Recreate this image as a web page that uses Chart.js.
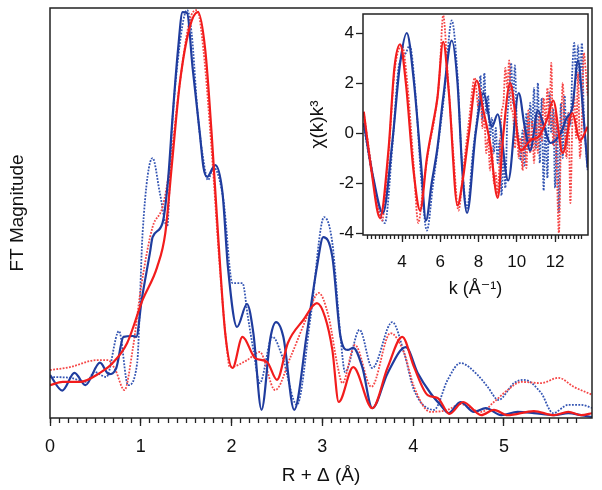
<!DOCTYPE html>
<html lang="en">
<head>
<meta charset="UTF-8">
<title>FT Magnitude</title>
<script src="https://cdn.jsdelivr.net/npm/chart.js"></script>
<style>
    body { margin: 0; background: #fff; }
    .wrap { position: relative; width: 602px; height: 490px; }
    #mainChart { position: absolute; left: 0; top: 0; }
    #insetChart { position: absolute; left: 290px; top: 0; }
</style>
</head>
<body>
<div class="wrap">
    <canvas id="mainChart" width="602" height="490"></canvas>
    <canvas id="insetChart" width="300" height="300"></canvas>
</div>
<script>
// main panel: FT magnitude vs R + delta
const rBlueSolid = [0.00,0.135,0.27,0.39,0.55,0.65,0.73,0.81,0.91,0.95,1.01,1.10,1.13,1.24,1.30,1.35,1.41,1.46,1.51,1.57,1.65,1.69,1.73,1.82,1.90,1.96,2.06,2.17,2.24,2.33,2.43,2.49,2.57,2.69,2.83,2.94,3.01,3.11,3.20,3.28,3.34,3.44,3.55,3.72,3.92,4.05,4.19,4.30,4.39,4.52,4.67,4.80,4.97,5.15,5.33,5.55,5.71,5.85,5.98];
const ftBlueSolid = [0.105,0.067,0.110,0.080,0.135,0.107,0.122,0.198,0.200,0.198,0.288,0.402,0.441,0.476,0.580,0.734,0.898,0.990,0.988,0.856,0.695,0.612,0.588,0.617,0.549,0.368,0.222,0.278,0.207,0.020,0.198,0.234,0.198,0.020,0.207,0.368,0.441,0.393,0.198,0.166,0.171,0.124,0.024,0.110,0.173,0.110,0.061,0.032,0.012,0.039,0.015,0.024,0.007,0.015,0.012,0.007,0.012,0.007,0.002];

const rBlueDot = [0.00,0.22,0.40,0.49,0.62,0.76,0.86,0.96,1.02,1.13,1.21,1.29,1.34,1.40,1.51,1.56,1.63,1.69,1.74,1.80,1.91,2.01,2.12,2.18,2.24,2.31,2.45,2.56,2.72,2.87,3.02,3.11,3.20,3.25,3.41,3.55,3.77,3.90,4.01,4.23,4.38,4.52,4.71,4.82,4.94,5.11,5.22,5.41,5.54,5.71,5.85,5.98];
const ftBlueDot = [0.100,0.098,0.088,0.112,0.100,0.212,0.080,0.134,0.451,0.634,0.549,0.466,0.695,0.856,0.995,0.939,0.734,0.629,0.580,0.612,0.532,0.329,0.329,0.246,0.166,0.085,0.198,0.149,0.032,0.246,0.490,0.427,0.198,0.112,0.215,0.122,0.234,0.159,0.068,0.020,0.093,0.134,0.105,0.076,0.044,0.085,0.093,0.061,0.012,0.032,0.032,0.024];

const rRedSolid = [0.00,0.14,0.33,0.55,0.69,0.85,1.02,1.18,1.27,1.34,1.43,1.54,1.63,1.71,1.78,1.85,1.93,2.01,2.12,2.26,2.39,2.50,2.62,2.79,2.94,3.03,3.11,3.18,3.34,3.55,3.72,3.88,4.01,4.16,4.27,4.40,4.55,4.75,4.89,5.04,5.33,5.55,5.71,5.85,5.98];
const ftRedSolid = [0.080,0.088,0.088,0.110,0.134,0.183,0.288,0.368,0.451,0.612,0.817,0.954,0.990,0.898,0.695,0.451,0.207,0.122,0.198,0.146,0.137,0.093,0.183,0.239,0.280,0.246,0.166,0.039,0.124,0.024,0.124,0.198,0.124,0.056,0.049,0.010,0.039,0.007,0.020,0.007,0.017,0.007,0.015,0.007,0.012];

const rRedDot = [0.00,0.22,0.51,0.64,0.72,0.82,0.91,1.01,1.13,1.24,1.32,1.43,1.54,1.62,1.69,1.78,1.87,1.95,1.98,2.17,2.31,2.48,2.65,2.83,2.96,3.07,3.17,3.22,3.36,3.54,3.75,3.90,4.01,4.19,4.38,4.52,4.75,4.89,5.04,5.19,5.41,5.60,5.77,5.98];
const ftRedDot = [0.117,0.124,0.141,0.141,0.117,0.068,0.166,0.329,0.466,0.515,0.612,0.817,0.971,0.995,0.898,0.654,0.368,0.166,0.124,0.141,0.161,0.068,0.149,0.246,0.305,0.246,0.124,0.085,0.178,0.076,0.207,0.159,0.076,0.015,0.020,0.034,0.015,0.039,0.068,0.088,0.085,0.098,0.076,0.056];

const mainTicks = [0, 1, 2, 3, 4, 5];

// inset: chi(k)k^3 vs k
const kBlueSolid = [2.0,2.5,3.0,3.5,3.9,4.25,4.6,5.0,5.25,5.55,5.85,6.15,6.6,6.9,7.15,7.4,7.85,8.25,8.7,9.0,9.55,10.1,10.4,10.7,11.1,11.45,11.75,12.3,12.6,12.9,13.2,13.45,13.7];
const chiBlueSolid = [0.4,-1.8,-3.2,-0.3,2.8,4.0,2.2,-1.3,-3.5,-2.0,-0.6,1.4,3.7,2.0,-1.5,-3.2,0.0,1.6,0.25,0.75,-1.9,1.6,0.3,-0.7,0.9,0.2,-0.4,0.0,0.6,1.0,2.9,1.0,-1.4];

const kRedSolid = [2.0,2.4,2.85,3.3,3.6,3.9,4.2,4.6,4.95,5.3,5.6,5.85,6.15,6.45,6.9,7.15,7.5,7.9,8.25,8.6,9.0,9.3,9.65,10.2,10.7,11.2,11.6,11.9,12.4,12.9,13.3,13.7];
const chiRedSolid = [0.85,-1.5,-3.4,-0.6,2.6,3.55,2.0,-1.5,-3.1,-1.0,0.3,1.4,3.65,1.6,-2.9,-2.0,0.0,2.1,0.9,-0.4,-2.6,0.0,2.0,-0.7,-0.3,-0.1,0.6,1.3,-0.8,0.8,-0.3,0.25];

const kBlueDot = [2.0,2.5,3.1,3.5,3.8,4.0,4.2,4.4,4.7,5.0,5.3,5.6,5.9,6.2,6.6,6.9,7.1,7.4,7.7,8.0,8.1,8.2,8.3,8.4,8.5,8.6,8.7,8.8,8.9,9.0,9.1,9.2,9.3,9.4,9.5,9.6,9.7,9.8,9.9,10.0,10.1,10.2,10.3,10.4,10.5,10.6,10.7,10.8,10.9,11.0,11.1,11.2,11.3,11.4,11.5,11.6,11.7,11.8,11.9,12.0,12.1,12.2,12.3,12.4,12.5,12.6,12.7,12.8,12.9,13.0,13.1,13.2,13.3,13.4,13.5,13.6,13.7];
const chiBlueDot = [0.3,-1.9,-3.6,-0.5,2.5,3.0,3.2,3.5,1.6,-1.8,-3.9,-2.2,-0.4,1.5,4.5,2.3,-0.8,-3.0,-0.8,1.2,2.3,0.5,2.4,0.8,1.5,-0.2,0.6,-0.8,0.2,-1.2,-0.3,-2.5,-1.0,-2.2,0.5,1.5,2.8,1.2,2.7,0.4,-0.2,-1.1,0.1,-1.3,0.8,-0.5,1.2,0.2,1.8,-0.6,2.0,-1.2,1.4,-2.3,0.3,-1.8,1.6,0.0,1.0,-2.2,0.5,-3.2,1.2,-1.0,1.5,-0.5,0.8,0.3,2.5,3.6,2.2,3.5,2.0,3.6,0.8,-0.5,-1.5];

const kRedDot = [2.0,2.5,2.95,3.3,3.6,4.0,4.3,4.6,4.85,5.1,5.4,5.7,5.95,6.15,6.4,6.7,6.95,7.2,7.5,7.8,8.0,8.1,8.2,8.3,8.4,8.5,8.6,8.7,8.8,8.9,9.0,9.1,9.2,9.3,9.4,9.5,9.6,9.7,9.8,9.9,10.0,10.1,10.2,10.3,10.4,10.5,10.6,10.7,10.8,10.9,11.0,11.1,11.2,11.3,11.4,11.5,11.6,11.7,11.8,11.9,12.0,12.1,12.2,12.3,12.4,12.5,12.6,12.7,12.8,12.9,13.0,13.1,13.2,13.3,13.4,13.5,13.6,13.7];
const chiRedDot = [0.8,-1.8,-3.5,-0.8,2.4,3.5,1.8,-1.2,-3.6,-2.2,-0.6,0.6,2.2,4.7,2.2,-1.0,-3.1,-1.5,0.5,2.2,1.0,1.6,0.2,0.6,-0.8,-0.2,-1.5,-0.6,-2.0,-1.6,-2.5,-1.0,0.8,1.2,2.6,1.8,2.9,1.0,0.8,-0.6,0.2,-1.0,-0.2,-1.5,0.3,-1.4,0.9,-0.8,0.5,-1.2,0.6,-0.8,0.8,-0.3,1.4,0.5,1.8,0.3,2.8,-0.5,0.8,-1.8,-4.0,-0.5,2.0,0.2,-1.0,0.8,-2.8,0.3,1.5,-0.2,2.4,-1.0,0.5,3.2,2.5,1.5];

const insetXTicks = [4, 6, 8, 10, 12];
const insetYTicks = [-4, -2, 0, 2, 4];

const BLUE = '#1f3c9e';
const BLUE_DOT = '#3455b3';
const RED = '#f21c1c';
const RED_DOT = '#f54646';

Chart.defaults.font.family = '"Liberation Sans", Arial, "DejaVu Sans", sans-serif';
Chart.defaults.color = '#111';

function pts(xs, ys) {
    return xs.map((x, i) => ({ x: x, y: ys[i] }));
}

function line(data, color, dotted) {
    return {
        data: data,
        borderColor: color,
        borderWidth: dotted ? 1.8 : 2.2,
        borderDash: dotted ? [1.8, 1.4] : [],
        pointRadius: 0,
        fill: false,
        cubicInterpolationMode: 'monotone'
    };
}

// box around the plot area
const frame = {
    id: 'frame',
    afterDraw(chart) {
        const a = chart.chartArea;
        const ctx = chart.ctx;
        ctx.save();
        ctx.strokeStyle = '#222';
        ctx.lineWidth = 1.5;
        ctx.strokeRect(a.left, a.top, a.right - a.left, a.bottom - a.top);
        ctx.restore();
    }
};

function keepSteps(step) {
    return function (s) {
        s.ticks = s.ticks.filter(t => Math.abs(t.value / step - Math.round(t.value / step)) < 1e-6);
    };
}

const tickGrid = (len) => ({ drawOnChartArea: false, tickLength: len, tickColor: '#222', tickWidth: 1.3 });

new Chart(document.getElementById('mainChart'), {
    type: 'line',
    data: {
        datasets: [
            line(pts(rRedSolid, ftRedSolid), RED, false),
            line(pts(rBlueSolid, ftBlueSolid), BLUE, false),
            line(pts(rRedDot, ftRedDot), RED_DOT, true),
            line(pts(rBlueDot, ftBlueDot), BLUE_DOT, true)
        ]
    },
    options: {
        responsive: false,
        animation: false,
        devicePixelRatio: 1,
        layout: { padding: { left: 0, top: 8, right: 10, bottom: 0 } },
        plugins: { legend: { display: false }, tooltip: { enabled: false } },
        scales: {
            x: {
                type: 'linear', position: 'bottom', weight: 1,
                min: 0, max: 5.97,
                afterBuildTicks: s => { s.ticks = mainTicks.map(v => ({ value: v })); },
                afterFit: s => { s.height = 72; },
                ticks: { font: { size: 18 }, padding: 10, maxRotation: 0 },
                grid: tickGrid(8),
                border: { display: false },
                title: { display: true, text: 'R + Δ (Å)', font: { size: 19 }, padding: { top: 0, bottom: 3 } }
            },
            xMinor: {
                type: 'linear', position: 'bottom', weight: 0,
                min: 0, max: 5.97,
                afterBuildTicks: keepSteps(0.1),
                afterFit: s => { s.height = 0; },
                ticks: { display: false, stepSize: 0.1, autoSkip: false },
                grid: tickGrid(5),
                border: { display: false }
            },
            y: {
                min: 0, max: 1,
                afterFit: s => { s.width = 50; },
                ticks: { display: false },
                grid: { display: false },
                border: { display: false },
                title: { display: true, text: 'FT Magnitude', font: { size: 19 }, padding: { top: 6, bottom: 0 } }
            }
        }
    },
    plugins: [frame]
});

new Chart(document.getElementById('insetChart'), {
    type: 'line',
    data: {
        datasets: [
            line(pts(kRedSolid, chiRedSolid), RED, false),
            line(pts(kBlueSolid, chiBlueSolid), BLUE, false),
            line(pts(kRedDot, chiRedDot), RED_DOT, true),
            line(pts(kBlueDot, chiBlueDot), BLUE_DOT, true)
        ]
    },
    options: {
        responsive: false,
        animation: false,
        devicePixelRatio: 1,
        layout: { padding: { left: 0, top: 14, right: 2, bottom: 0 } },
        plugins: { legend: { display: false }, tooltip: { enabled: false } },
        scales: {
            x: {
                type: 'linear', position: 'bottom', weight: 1,
                min: 1.96, max: 13.72,
                afterBuildTicks: s => { s.ticks = insetXTicks.map(v => ({ value: v })); },
                afterFit: s => { s.height = 65; },
                ticks: { font: { size: 17 }, padding: 10, maxRotation: 0 },
                grid: tickGrid(7),
                border: { display: false },
                title: { display: true, text: 'k (Å⁻¹)', font: { size: 18 }, padding: { top: 0, bottom: 0 } }
            },
            xMinor: {
                type: 'linear', position: 'bottom', weight: 0,
                min: 1.96, max: 13.72,
                afterBuildTicks: keepSteps(0.2),
                afterFit: s => { s.height = 0; },
                ticks: { display: false, stepSize: 0.2, autoSkip: false },
                grid: tickGrid(4),
                border: { display: false }
            },
            y: {
                min: -4.08, max: 4.76,
                afterBuildTicks: s => { s.ticks = insetYTicks.map(v => ({ value: v })); },
                afterFit: s => { s.width = 73; },
                ticks: { font: { size: 17 }, padding: 2 },
                grid: tickGrid(7),
                border: { display: false },
                title: { display: true, text: 'χ(k)k³', font: { size: 19 }, padding: { top: 16, bottom: 0 } }
            }
        }
    },
    plugins: [frame]
});
</script>
</body>
</html>
